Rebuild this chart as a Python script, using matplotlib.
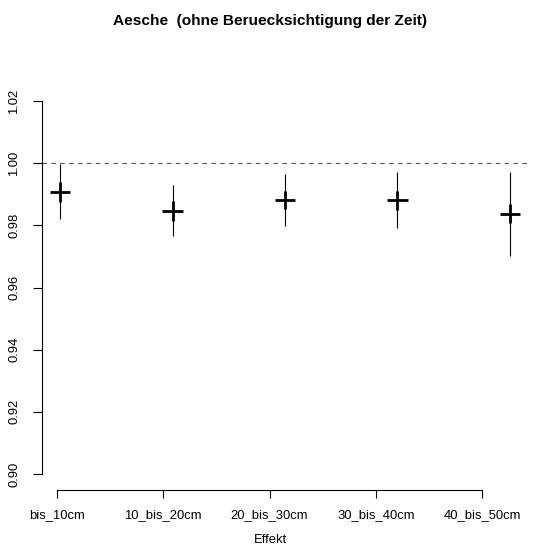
import matplotlib
matplotlib.use("Agg")
import matplotlib.pyplot as plt

categories = ["bis_10cm", "10_bis_20cm", "20_bis_30cm", "30_bis_40cm", "40_bis_50cm"]
estimate = [0.9908, 0.9847, 0.9882, 0.9881, 0.9837]
outer_lo = [0.9821, 0.9766, 0.9798, 0.9790, 0.9701]
outer_hi = [0.9996, 0.9930, 0.9965, 0.9971, 0.9971]
inner_lo = [0.9876, 0.9815, 0.9852, 0.9849, 0.9807]
inner_hi = [0.9940, 0.9878, 0.9911, 0.9911, 0.9868]
yticks = [0.90, 0.92, 0.94, 0.96, 0.98, 1.00, 1.02]
ref_value = 1.0

plt.rcParams['font.family'] = ['Liberation Sans', 'DejaVu Sans']

W, H = 553, 557
fig = plt.figure(figsize=(W / 100, H / 100), dpi=100)
L, R, T, B = 42, 528, 86, 490
ax = fig.add_axes([L / W, 1 - B / H, (R - L) / W, (B - T) / H])

pos = list(range(1, len(categories) + 1))

ax2 = ax.twiny()

ax.set_xlim(0.84, 5.16)
ax.set_ylim(0.89485, 1.02483)

half = 0.089
for x, e, ol, oh, il, ih in zip(pos, estimate, outer_lo, outer_hi, inner_lo, inner_hi):
    ax.plot([x, x], [ol, oh], color="black", lw=0.8, solid_capstyle="butt")
    ax.plot([x, x], [il, ih], color="black", lw=2.0, solid_capstyle="butt")
    ax.plot([x - half, x + half], [e, e], color="black", lw=2.0, solid_capstyle="butt")

ax.plot([0.84, 5.16], [ref_value, ref_value], color="#555555", lw=0.8,
        linestyle=(0, (4, 4)), clip_on=False)

for s in ["top", "right", "bottom"]:
    ax.spines[s].set_visible(False)
ax.spines["left"].set_bounds(0.90, 1.02)
ax.spines["left"].set_linewidth(0.8)
ax.set_yticks(yticks)
ax.set_yticklabels([f"{v:.2f}" for v in yticks], rotation=90, va="center")
ax.tick_params(axis="y", length=6.5, width=0.8, pad=9, labelsize=9.4)
ax.set_xticks([])
ax.tick_params(axis="x", which="both", bottom=False, top=False,
               labelbottom=False, labeltop=False)

ax2.set_xlim(0.8618, 5.4295)
for s in ["top", "right", "left"]:
    ax2.spines[s].set_visible(False)
ax2.spines["bottom"].set_visible(True)
ax2.spines["bottom"].set_bounds(1, 5)
ax2.spines["bottom"].set_linewidth(0.8)
ax2.xaxis.set_ticks_position("bottom")
ax2.xaxis.set_label_position("bottom")
ax2.set_xticks(pos)
ax2.set_xticklabels(categories)
ax2.tick_params(axis="x", which="both", top=False, labeltop=False)
ax2.tick_params(axis="x", length=5.5, width=0.8, pad=8, labelsize=9.4)
ax2.set_xlabel("Effekt", fontsize=9.4)
cx = (270 - L) / (R - L)
ax2.xaxis.set_label_coords(cx, -(540 - B) / (B - T), transform=ax2.transAxes)
ax2.xaxis.label.set_va("center")

fig.text(270 / W, 1 - 21 / H, "Aesche  (ohne Beruecksichtigung der Zeit)",
         ha="center", va="center", fontsize=11.1, fontweight="bold")

fig.savefig("out.png", dpi=100)
